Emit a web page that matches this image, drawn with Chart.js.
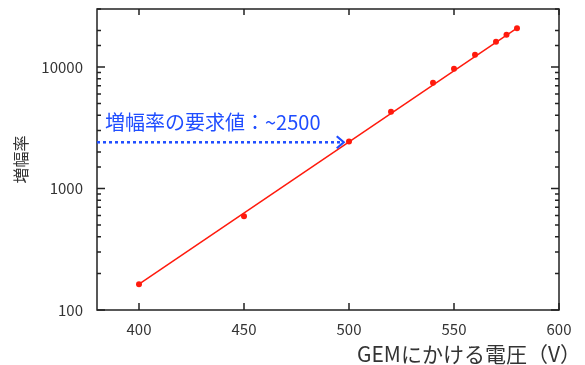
<!DOCTYPE html>
<html>
<head>
<meta charset="utf-8">
<script src="https://cdn.jsdelivr.net/npm/chart.js@4/dist/chart.umd.min.js"></script>
<style>
    body { margin: 0; background: #ffffff; }
    #gainChart { display: block; }
</style>
</head>
<body>
<canvas id="gainChart" width="585" height="365"></canvas>
<script>
// measured points (voltage, gain)
var voltageList = [400, 450, 500, 520, 540, 550, 560, 570, 575, 580];
var gainList = [163, 590, 2440, 4280, 7400, 9650, 12600, 16100, 18400, 20800];

// straight fit line at its two ends
var fitVoltage = [400, 580];
var fitGain = [163, 20900];

// axis ranges / ticks
var xTicks = [400, 450, 500, 550, 600];
var yTickLabels = [100, 1000, 10000];
var xRange = [380, 600];
var yRange = [100, 30000];

// required gain arrow
var arrowGain = 2400;
var arrowVoltage = [380, 497.5];
var arrowText = '増幅率の要求値：~2500';

var xTitle = 'GEMにかける電圧（V）';
var yTitle = '増幅率';

var fontName = "'Noto Sans CJK JP', 'Noto Sans', sans-serif";
var blue = '#1f4dff';
var red = '#ff1a0d';

function toPoints(xs, ys){
    var pts = [];
    for(var i=0; i<xs.length; i++){
        pts.push({x: xs[i], y: ys[i]});
    }
    return pts;
}

// frame, inward ticks on all four sides, annotation and x title
var framePlugin = {
    id: 'frame',
    afterDraw: function(chart){
        var ctx = chart.ctx;
        var area = chart.chartArea;
        var xs = chart.scales.x;
        var ys = chart.scales.y;

        ctx.save();
        ctx.strokeStyle = '#222222';
        ctx.lineWidth = 1.5;
        ctx.strokeRect(area.left, area.top, area.right - area.left, area.bottom - area.top);

        ctx.beginPath();
        xs.ticks.forEach(function(t){
            var px = xs.getPixelForValue(t.value);
            ctx.moveTo(px, area.bottom);
            ctx.lineTo(px, area.bottom - 7);
            ctx.moveTo(px, area.top);
            ctx.lineTo(px, area.top + 6);
        });
        ys.ticks.forEach(function(t){
            var py = ys.getPixelForValue(t.value);
            var lg = Math.log10(t.value);
            var len = Math.abs(lg - Math.round(lg)) < 1e-9 ? 8 : 4;
            ctx.moveTo(area.left, py);
            ctx.lineTo(area.left + len, py);
            ctx.moveTo(area.right, py);
            ctx.lineTo(area.right - len, py);
        });
        ctx.stroke();

        // dotted arrow to the required gain
        var ay = ys.getPixelForValue(arrowGain);
        var ax0 = xs.getPixelForValue(arrowVoltage[0]);
        var ax1 = xs.getPixelForValue(arrowVoltage[1]);
        ctx.strokeStyle = blue;
        ctx.lineWidth = 2.5;
        ctx.setLineDash([3, 3]);
        ctx.beginPath();
        ctx.moveTo(ax0, ay);
        ctx.lineTo(ax1 - 2, ay);
        ctx.stroke();
        ctx.setLineDash([]);
        ctx.lineWidth = 2.2;
        ctx.beginPath();
        ctx.moveTo(ax1 - 7, ay - 6);
        ctx.lineTo(ax1, ay);
        ctx.lineTo(ax1 - 7, ay + 6);
        ctx.stroke();

        ctx.fillStyle = blue;
        ctx.font = '20px ' + fontName;
        ctx.textAlign = 'left';
        ctx.textBaseline = 'alphabetic';
        ctx.fillText(arrowText, ax0 + 8, ay - 12);

        // x axis title sits at the right end
        ctx.fillStyle = '#333333';
        ctx.font = '21px ' + fontName;
        ctx.textAlign = 'right';
        ctx.textBaseline = 'middle';
        ctx.fillText(xTitle, 581, 354);
        ctx.restore();
    }
};

var gainChart = new Chart(document.getElementById('gainChart').getContext('2d'), {
    type: 'scatter',
    data: {
        datasets: [{
            label: 'fit',
            data: toPoints(fitVoltage, fitGain),
            showLine: true,
            borderColor: red,
            borderWidth: 1.5,
            pointRadius: 0,
            fill: false
        }, {
            label: 'gain',
            data: toPoints(voltageList, gainList),
            showLine: false,
            backgroundColor: red,
            borderColor: red,
            pointRadius: 3,
            pointBorderWidth: 0
        }]
    },
    options: {
        responsive: false,
        animation: false,
        layout: { padding: { top: 9, right: 26, left: 0, bottom: 0 } },
        plugins: {
            legend: { display: false },
            tooltip: { enabled: false }
        },
        scales: {
            x: {
                type: 'linear',
                min: xRange[0],
                max: xRange[1],
                afterFit: function(scale){
                    scale.height = 55;
                    scale.paddingLeft = 0;
                    scale.paddingRight = 0;
                },
                afterBuildTicks: function(scale){
                    scale.ticks = xTicks.map(function(v){ return {value: v}; });
                },
                grid: { display: false, drawTicks: false },
                border: { display: false },
                ticks: {
                    padding: 10,
                    color: '#333333',
                    font: { family: fontName, size: 15 },
                    maxRotation: 0,
                    autoSkip: false
                }
            },
            y: {
                type: 'logarithmic',
                min: yRange[0],
                max: yRange[1],
                afterFit: function(scale){
                    scale.width = 97;
                    scale.paddingTop = 0;
                    scale.paddingBottom = 0;
                },
                grid: { display: false, drawTicks: false },
                border: { display: false },
                title: {
                    display: true,
                    text: yTitle,
                    color: '#333333',
                    font: { family: fontName, size: 16 },
                    padding: { top: 11, bottom: 0 }
                },
                ticks: {
                    padding: 14,
                    color: '#333333',
                    font: { family: fontName, size: 15 },
                    autoSkip: false,
                    callback: function(value){
                        if(yTickLabels.indexOf(value) >= 0) return String(value);
                        return '';
                    }
                }
            }
        }
    },
    plugins: [framePlugin]
});
</script>
</body>
</html>
